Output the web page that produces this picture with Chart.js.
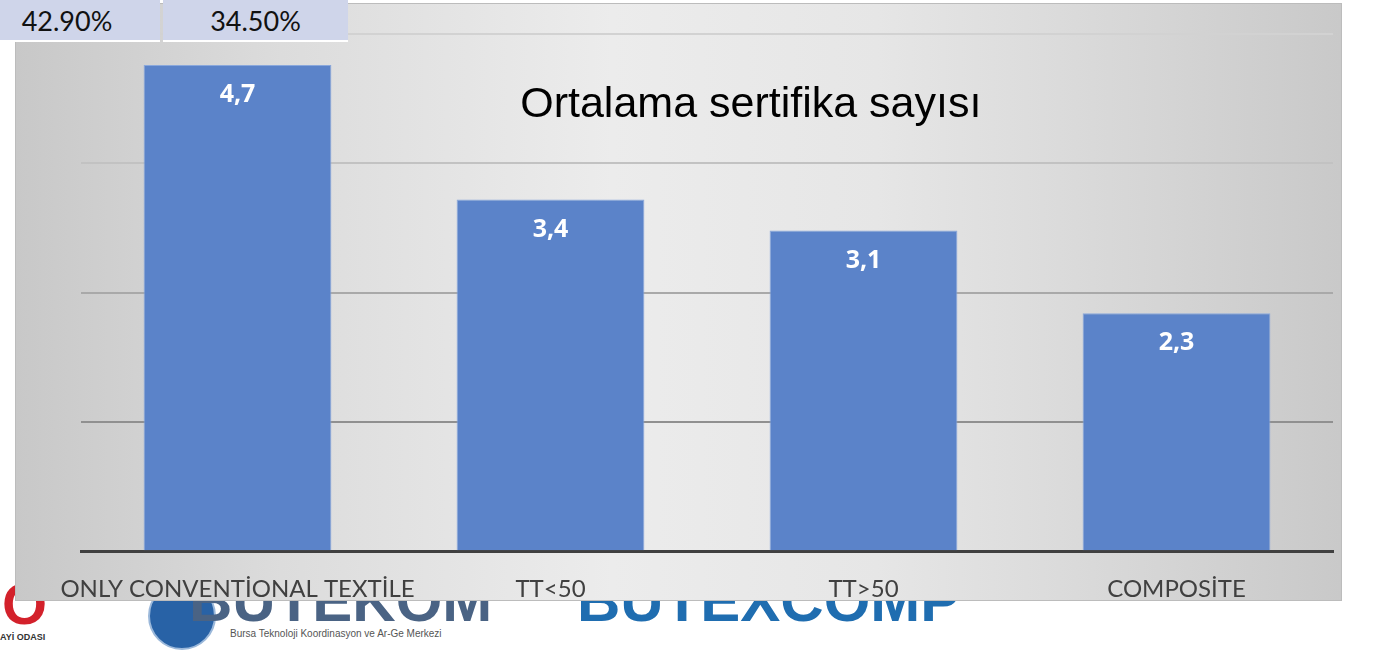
<!DOCTYPE html>
<html>
<head>
<meta charset="utf-8">
<script src="https://cdn.jsdelivr.net/npm/chart.js@4"></script>
<style>
  html, body { margin: 0; padding: 0; background: #fff; }
  body { width: 1375px; height: 650px; position: relative; overflow: hidden; font-family: "Liberation Sans", Arial, sans-serif; }
  .panel {
    position: absolute; left: 15px; top: 3px; width: 1325px; height: 596px;
    background: linear-gradient(90deg, #c8c8c8 0%, #dcdcdc 20%, #ececec 45%, #e6e6e6 65%, #d6d6d6 85%, #c9c9c9 100%);
    border: 1px solid #bcbcbc; z-index: 2;
  }
  #wrap { position: absolute; left: 0; top: 0; width: 1375px; height: 650px; z-index: 3; }
  .tbl { position: absolute; top: 0; height: 40px; background: #cfd5ea; z-index: 4;
    font-family: Lato, "Open Sans", sans-serif; font-size: 27px; color: #111;
    display: flex; align-items: center; justify-content: center; border-bottom: 2px solid #fff; }
  .logo { position: absolute; z-index: 1; font-weight: bold; font-family: "Liberation Sans", Arial, sans-serif; }
</style>
</head>
<body>
<div class="panel"></div>
<div class="tbl" style="left:-26px;width:186px;">42.90%</div>
<div class="tbl" style="left:163px;width:185px;">34.50%</div>

<div class="logo" style="left:2px;top:570px;font-size:58px;color:#d3212b;">O</div>
<div class="logo" style="left:0;top:632px;font-size:9px;color:#333;">AYİ ODASI</div>
<div class="logo" style="left:148px;top:582px;width:64px;height:64px;border-radius:50%;background:#2862a6;border:2px solid #9bb8da;"></div>
<div class="logo" style="left:189px;top:566px;font-size:60px;color:#4a6384;">BUTEKOM</div>
<div class="logo" style="left:230px;top:628px;font-size:10px;font-weight:normal;color:#555;">Bursa Teknoloji Koordinasyon ve Ar-Ge Merkezi</div>
<div class="logo" style="left:577px;top:566px;font-size:60px;color:#1f6db0;">BUTEXCOMP</div>

<div id="wrap"><canvas id="chart" width="1375" height="650"></canvas></div>

<script>
// veriler
const categories = ['ONLY CONVENTİONAL TEXTİLE', 'TT<50', 'TT>50', 'COMPOSİTE'];
const certCounts = [4.7, 3.4, 3.1, 2.3];
const valueLabels = ['4,7', '3,4', '3,1', '2,3'];
const chartTitle = 'Ortalama sertifika sayısı';

// grid colors from top (light) to bottom (dark)
function gridColor(ctx) {
  const v = ctx.tick ? ctx.tick.value : 0;
  if (v === 0) return 'rgba(0,0,0,0)';
  if (v >= 5) return '#d2d2d2';
  if (v >= 3.75) return '#c2c2c2';
  if (v >= 2.5) return '#a9a9a9';
  return '#909090';
}

// labels inside bars + title text
const labelPlugin = {
  id: 'labelPlugin',
  afterDatasetsDraw(chart) {
    const ctx = chart.ctx;
    const meta = chart.getDatasetMeta(0);
    ctx.save();
    ctx.fillStyle = '#ffffff';
    ctx.font = 'bold 25px "Open Sans", Lato, sans-serif';
    ctx.textAlign = 'center';
    ctx.textBaseline = 'middle';
    meta.data.forEach(function (bar, i) {
      ctx.fillText(valueLabels[i], bar.x, bar.y + 30);
    });
    ctx.fillStyle = '#000000';
    ctx.font = '43px "Liberation Sans", Arial, sans-serif';
    const area = chart.chartArea;
    ctx.fillText(chartTitle, area.left + (area.right - area.left) * 0.535, area.top + 71);
    ctx.restore();
  }
};

var ctx = document.getElementById('chart').getContext('2d');
var chart = new Chart(ctx, {
  type: 'bar',
  data: {
    labels: categories,
    datasets: [{
      data: certCounts,
      backgroundColor: '#5b83c9',
      borderColor: '#8aa8dc',
      borderWidth: 1,
      barPercentage: 0.6,
      categoryPercentage: 1.0
    }]
  },
  options: {
    responsive: false,
    animation: false,
    layout: { padding: { left: 81, right: 42, top: 34, bottom: 22 } },
    plugins: { legend: { display: false }, tooltip: { enabled: false } },
    scales: {
      x: {
        grid: { display: false, drawTicks: false },
        border: { display: true, color: '#404040', width: 3 },
        ticks: {
          color: '#404040',
          padding: 24,
          maxRotation: 0,
          autoSkip: false,
          font: { family: 'Lato, "Open Sans", sans-serif', size: 24 }
        }
      },
      y: {
        min: 0,
        max: 5,
        ticks: { display: false, stepSize: 1.25 },
        border: { display: false },
        grid: { color: gridColor, lineWidth: 2, drawTicks: false }
      }
    }
  },
  plugins: [labelPlugin]
});
</script>
</body>
</html>
